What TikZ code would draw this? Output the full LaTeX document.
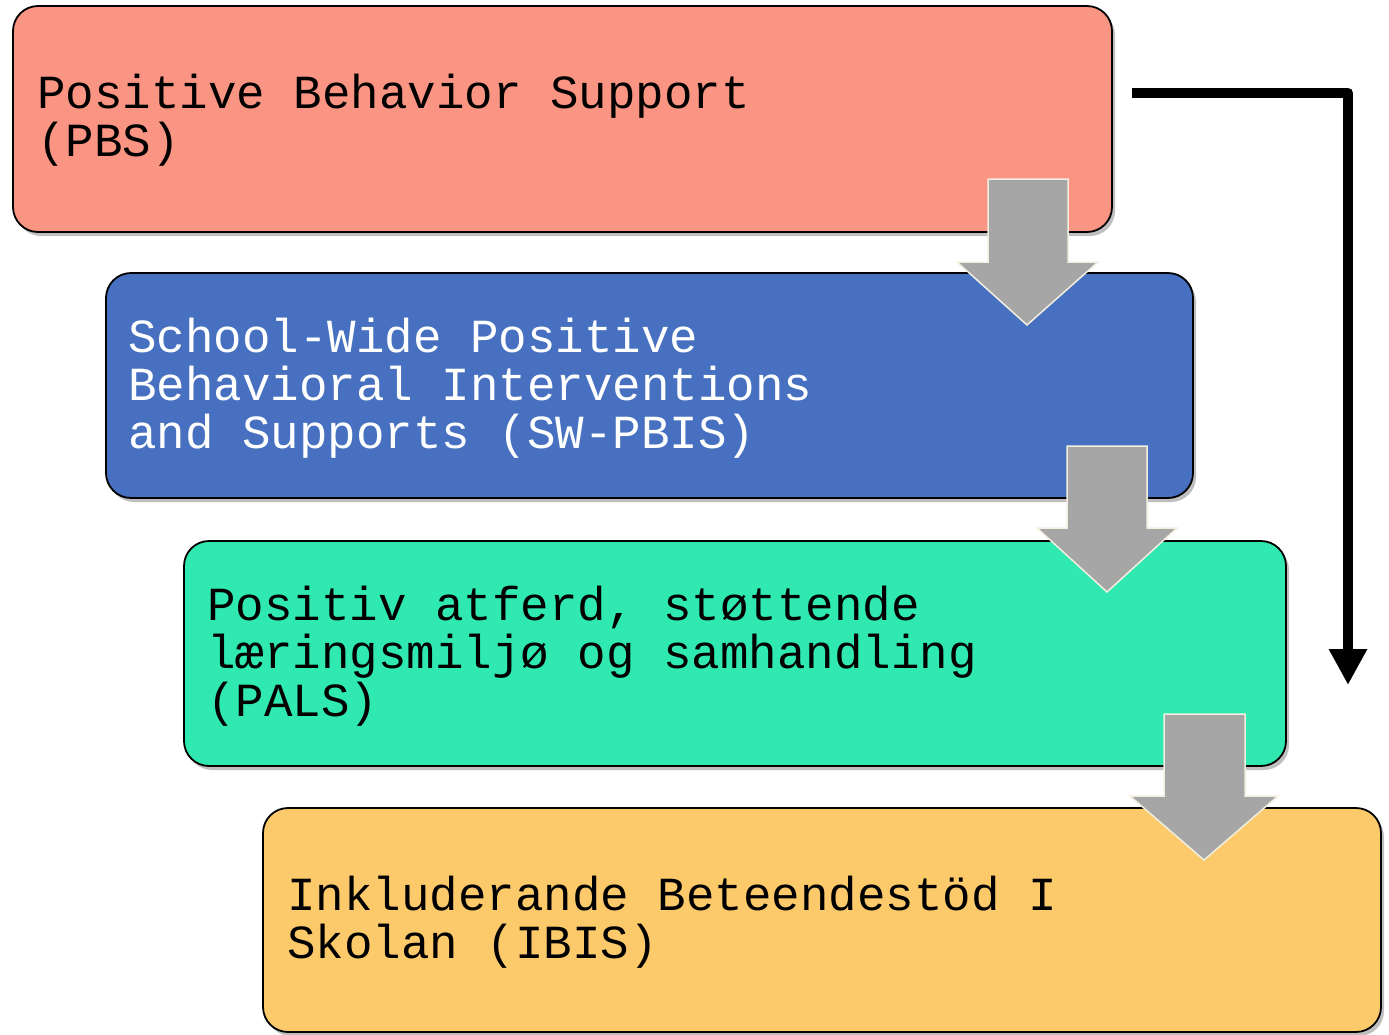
\documentclass[tikz,border=0pt]{standalone}
\usepackage{fontspec}
\setmonofont{Liberation Mono}
\usetikzlibrary{arrows.meta,shadows}
\definecolor{cRed}{HTML}{FA9483}
\definecolor{cBlue}{HTML}{4771C0}
\definecolor{cGreen}{HTML}{2FE9B0}
\definecolor{cYellow}{HTML}{FCCA6A}
\definecolor{cGray}{HTML}{A6A6A6}
\definecolor{cEdge}{HTML}{F2EEE0}
\DeclareRobustCommand\stagefont{\ttfamily\fontsize{47.5}{48}\selectfont}
\DeclareRobustCommand\fixspaces{\spaceskip=28.5pt\relax\xspaceskip=28.5pt\relax}
\tikzset{
  stagebox/.style={draw=black, line width=1.8pt, rounded corners=25pt, inner sep=0pt,
    drop shadow={shadow xshift=3pt, shadow yshift=-4pt, opacity=0.25, fill=black}},
  stagetext/.style={anchor=base west, inner sep=0pt, text width=1100pt, align=left,
    font=\stagefont, execute at begin node=\fixspaces},
  grayarrow/.style={fill=cGray, draw=cEdge, line width=1.5pt, line join=miter},
}
\begin{document}
\begin{tikzpicture}[x=1pt,y=-1pt]
\useasboundingbox (0,0) rectangle (1389,1034);
% boxes
\node[stagebox, fill=cRed, minimum width=1099pt, minimum height=226pt] (b1) at (562.5,119) {};
\node[stagebox, fill=cBlue, minimum width=1087pt, minimum height=225pt] (b2) at (649.5,385.5) {};
\node[stagebox, fill=cGreen, minimum width=1102pt, minimum height=225pt] (b3) at (735,653.5) {};
\node[stagebox, fill=cYellow, minimum width=1118pt, minimum height=224pt] (b4) at (822,920) {};
% texts
\node[stagetext] (t1) at (37,108) {Positive Behavior Support\\(PBS)};
\node[stagetext, text=white] (t2) at (128,352) {School-Wide Positive\\Behavioral Interventions\\and Supports (SW-PBIS)};
\node[stagetext] (t3) at (207,620) {Positiv atferd, støttende\\læringsmiljø og samhandling\\(PALS)};
\node[stagetext] (t4) at (287,910) {Inkluderande Beteendestöd I\\Skolan (IBIS)};
% gray arrows
\draw[grayarrow] (988,179) -- (1068,179) -- (1068,262) -- (1098,262) -- (1027,325) -- (957,262) -- (988,262) -- cycle;
\draw[grayarrow] (1067,446) -- (1147,446) -- (1147,528) -- (1177,528) -- (1107,592) -- (1037,528) -- (1067,528) -- cycle;
\draw[grayarrow] (1164,714) -- (1245,714) -- (1245,796) -- (1278,796) -- (1204,860) -- (1130,796) -- (1164,796) -- cycle;
% black arrow
\coordinate (s) at (1132,93);
\coordinate (e) at (1348,685);
\draw[line width=10pt, line join=round, -{Triangle[width=36pt,length=36pt]}] (s) -- (e |- s) -- (e);
\end{tikzpicture}
\end{document}
